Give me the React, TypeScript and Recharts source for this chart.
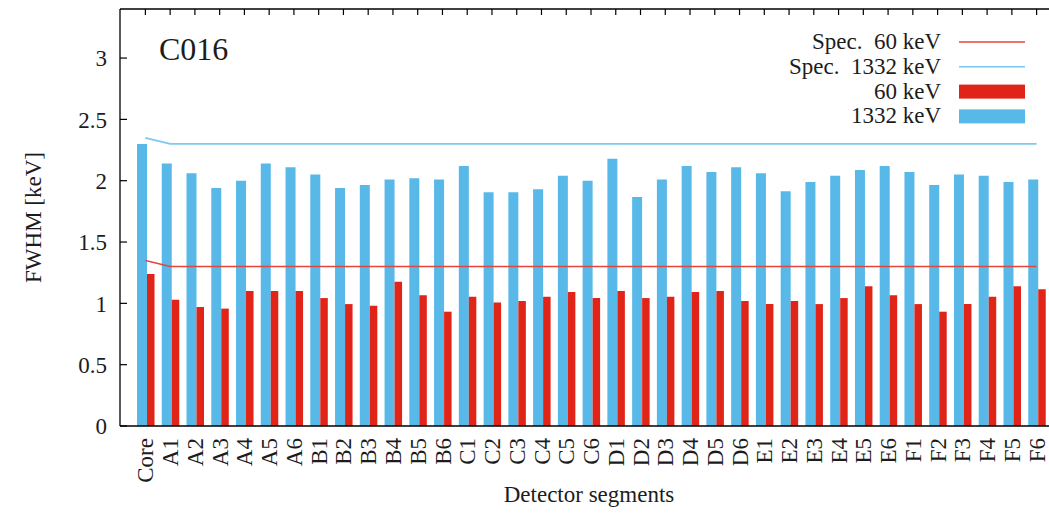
import React from 'react';
import { ComposedChart, Bar, Line, XAxis, YAxis, Legend } from 'recharts';

const segments = ['Core', 'A1', 'A2', 'A3', 'A4', 'A5', 'A6', 'B1', 'B2', 'B3', 'B4', 'B5', 'B6', 'C1', 'C2', 'C3', 'C4', 'C5', 'C6', 'D1', 'D2', 'D3', 'D4', 'D5', 'D6', 'E1', 'E2', 'E3', 'E4', 'E5', 'E6', 'F1', 'F2', 'F3', 'F4', 'F5', 'F6'];

const fwhm1332 = [2.30, 2.14, 2.06, 1.94, 2.00, 2.14, 2.11, 2.05, 1.94, 1.965, 2.01, 2.02, 2.01, 2.12, 1.905, 1.905, 1.93, 2.04, 2.00, 2.18, 1.867, 2.01, 2.12, 2.07, 2.11, 2.06, 1.915, 1.99, 2.04, 2.087, 2.12, 2.07, 1.965, 2.05, 2.04, 1.99, 2.01];

const fwhm60 = [1.24, 1.03, 0.97, 0.957, 1.10, 1.10, 1.10, 1.043, 0.994, 0.98, 1.176, 1.067, 0.932, 1.054, 1.006, 1.019, 1.054, 1.092, 1.043, 1.10, 1.043, 1.054, 1.092, 1.10, 1.019, 0.994, 1.019, 0.994, 1.043, 1.14, 1.067, 0.994, 0.932, 0.994, 1.054, 1.14, 1.116];

const spec1332 = [2.35, 2.3, 2.3, 2.3, 2.3, 2.3, 2.3, 2.3, 2.3, 2.3, 2.3, 2.3, 2.3, 2.3, 2.3, 2.3, 2.3, 2.3, 2.3, 2.3, 2.3, 2.3, 2.3, 2.3, 2.3, 2.3, 2.3, 2.3, 2.3, 2.3, 2.3, 2.3, 2.3, 2.3, 2.3, 2.3, 2.3];

const spec60 = [1.35, 1.3, 1.3, 1.3, 1.3, 1.3, 1.3, 1.3, 1.3, 1.3, 1.3, 1.3, 1.3, 1.3, 1.3, 1.3, 1.3, 1.3, 1.3, 1.3, 1.3, 1.3, 1.3, 1.3, 1.3, 1.3, 1.3, 1.3, 1.3, 1.3, 1.3, 1.3, 1.3, 1.3, 1.3, 1.3, 1.3];

const yTicks = [0, 0.5, 1, 1.5, 2, 2.5, 3];

const data = segments.map((seg, i) => ({
  seg,
  fwhm1332: fwhm1332[i],
  fwhm60: fwhm60[i],
  spec1332: spec1332[i],
  spec60: spec60[i],
}));

const FONT = '"Liberation Serif", "DejaVu Serif", serif';
const TEXT = '#1c1c1c';
const BLUE = '#58B9E9';
const RED = '#E02418';
const RED_LINE = '#E4463C';
const BLUE_LINE = '#7CC9EE';

const XTick = (props: any) => {
  const { x, y, payload } = props;
  return (
    <text
      transform={`translate(${x},${y}) rotate(-90)`}
      textAnchor="end"
      dy="0.35em"
      fontFamily={FONT}
      fontSize={23}
      fill={TEXT}
    >
      {payload.value}
    </text>
  );
};

const EmptyTick = () => <g />;

const legendOrder = ['spec60', 'spec1332', 'fwhm60', 'fwhm1332'];

const LegendContent = (props: any) => {
  const payload: any[] = props.payload || [];
  const items = legendOrder
    .map((k) => payload.find((p) => p.dataKey === k))
    .filter(Boolean);
  return (
    <svg width={349} height={135} style={{ display: 'block' }}>
      {items.map((it: any, i: number) => {
        const cy = 42 + i * 24.8;
        const isLine = it.type === 'line';
        return (
          <g key={it.dataKey}>
            <text
              x={241}
              y={cy + 7}
              textAnchor="end"
              fontFamily={FONT}
              fontSize={23}
              fill={TEXT}
              style={{ whiteSpace: 'pre' }}
            >
              {it.value}
            </text>
            {isLine ? (
              <line x1={259} x2={325} y1={cy} y2={cy} stroke={it.color} strokeWidth={1.6} />
            ) : (
              <rect x={259} y={cy - 7} width={66} height={14} fill={it.color} />
            )}
          </g>
        );
      })}
    </svg>
  );
};

export default function App() {
  return (
    <div style={{ position: 'absolute', left: 0, top: 0, width: 1049, height: 513, background: '#fff' }}>
      <ComposedChart
        width={1049}
        height={513}
        data={data}
        margin={{ top: 8, right: 0, bottom: 0, left: 0 }}
        barGap={0}
      >
        <XAxis
          dataKey="seg"
          xAxisId="bottom"
          height={87}
          padding={{ left: 13, right: 0 }}
          interval={0}
          tickLine={false}
          tickSize={0}
          tickMargin={12}
          tick={<XTick />}
          axisLine={{ stroke: '#000', strokeWidth: 1.3 }}
          label={{
            content: (p: any) => {
              const vb = p.viewBox;
              return (
                <text
                  x={589}
                  y={vb.y + 76}
                  textAnchor="middle"
                  fontFamily={FONT}
                  fontSize={23}
                  fill={TEXT}
                >
                  Detector segments
                </text>
              );
            },
          }}
        />
        <XAxis
          dataKey="seg"
          xAxisId="top"
          orientation="top"
          height={1}
          padding={{ left: 13, right: 0 }}
          interval={0}
          tickSize={-6}
          tickMargin={0}
          tick={<EmptyTick />}
          tickLine={{ stroke: '#000', strokeWidth: 1.2 }}
          axisLine={{ stroke: '#000', strokeWidth: 1.3 }}
        />
        <YAxis
          width={120}
          domain={[0, 3.4]}
          ticks={yTicks}
          type="number"
          allowDataOverflow
          tickSize={-7}
          tickMargin={20}
          tickLine={{ stroke: '#000', strokeWidth: 1.2 }}
          axisLine={{ stroke: '#000', strokeWidth: 1.3 }}
          tick={{ fontFamily: FONT, fontSize: 23, fill: TEXT }}
          label={{
            content: (p: any) => {
              const vb = p.viewBox;
              const cx = 33;
              const cy = vb.y + vb.height / 2;
              return (
                <text
                  transform={`translate(${cx},${cy}) rotate(-90)`}
                  textAnchor="middle"
                  dy="0.35em"
                  fontFamily={FONT}
                  fontSize={23}
                  fill={TEXT}
                >
                  FWHM [keV]
                </text>
              );
            },
          }}
        />
        <Bar
          xAxisId="bottom"
          dataKey="fwhm1332"
          name="1332 keV"
          fill={BLUE}
          barSize={10}
          isAnimationActive={false}
          legendType="rect"
        />
        <Bar
          xAxisId="bottom"
          dataKey="fwhm60"
          name="60 keV"
          fill={RED}
          barSize={7.5}
          isAnimationActive={false}
          legendType="rect"
        />
        <Line
          xAxisId="bottom"
          dataKey="spec60"
          name="Spec.  60 keV"
          type="linear"
          stroke={RED_LINE}
          strokeWidth={1.5}
          dot={false}
          activeDot={false}
          isAnimationActive={false}
          legendType="line"
        />
        <Line
          xAxisId="bottom"
          dataKey="spec1332"
          name="Spec.  1332 keV"
          type="linear"
          stroke={BLUE_LINE}
          strokeWidth={1.8}
          dot={false}
          activeDot={false}
          isAnimationActive={false}
          legendType="line"
        />
        <Legend
          layout="vertical"
          verticalAlign="middle"
          align="center"
          content={<LegendContent />}
          wrapperStyle={{ position: 'absolute', left: 700, top: 0, width: 349, height: 135 }}
        />
      </ComposedChart>
      <svg
        width={300}
        height={80}
        style={{ position: 'absolute', left: 0, top: 0, pointerEvents: 'none' }}
      >
        <text x={159} y={60} fontFamily={FONT} fontSize={32} fill={TEXT}>
          C016
        </text>
      </svg>
    </div>
  );
}
